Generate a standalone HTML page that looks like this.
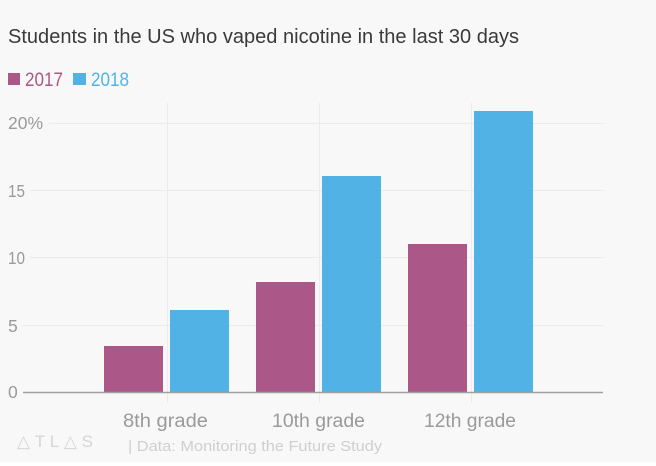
<!DOCTYPE html>
<html><head><meta charset="utf-8"><style>
html,body{margin:0;padding:0;background:#fff;}
svg{display:block;}
text{font-family:"Liberation Sans",sans-serif;}
</style></head><body>
<svg width="656" height="466" viewBox="0 0 656 466" xmlns="http://www.w3.org/2000/svg">
<rect x="0" y="0" width="656" height="462" fill="#f8f8f8"/>
<text x="8" y="43" font-size="20" fill="#3a3a3a" textLength="511" lengthAdjust="spacingAndGlyphs">Students in the US who vaped nicotine in the last 30 days</text>
<rect x="8" y="73" width="12" height="12" fill="#ab5787"/>
<text x="25" y="86" font-size="19.5" fill="#ab5787" textLength="38" lengthAdjust="spacingAndGlyphs">2017</text>
<rect x="73" y="73" width="13" height="12" fill="#51b2e5"/>
<text x="91" y="86" font-size="19.5" fill="#51b2e5" textLength="38" lengthAdjust="spacingAndGlyphs">2018</text>
<g stroke="#ebebeb" stroke-width="1">
<line x1="49" y1="123.5" x2="603" y2="123.5"/>
<line x1="30" y1="190.5" x2="603" y2="190.5"/>
<line x1="30" y1="257.5" x2="603" y2="257.5"/>
<line x1="22" y1="325.5" x2="603" y2="325.5"/>
<line x1="167.5" y1="103" x2="167.5" y2="403"/>
<line x1="319.5" y1="103" x2="319.5" y2="403"/>
<line x1="471.5" y1="103" x2="471.5" y2="403"/>
</g>
<g fill="#9a9a9a" font-size="17.5">
<text x="8" y="129" textLength="35" lengthAdjust="spacingAndGlyphs">20%</text>
<text x="8" y="197" textLength="17" lengthAdjust="spacingAndGlyphs">15</text>
<text x="8" y="264" textLength="17" lengthAdjust="spacingAndGlyphs">10</text>
<text x="8" y="332">5</text>
<text x="8" y="398">0</text>
</g>
<rect x="104" y="346" width="59" height="46" fill="#ab5787"/>
<rect x="170" y="310" width="59" height="82" fill="#51b2e5"/>
<rect x="256" y="282" width="59" height="110" fill="#ab5787"/>
<rect x="322" y="176" width="59" height="216" fill="#51b2e5"/>
<rect x="408" y="244" width="59" height="148" fill="#ab5787"/>
<rect x="474" y="111" width="59" height="281" fill="#51b2e5"/>
<line x1="23" y1="392.5" x2="603" y2="392.5" stroke="#a0a0a0" stroke-width="1.5"/>
<g fill="#9a9a9a" font-size="19">
<text x="123" y="427" textLength="85" lengthAdjust="spacingAndGlyphs">8th grade</text>
<text x="272" y="427" textLength="93" lengthAdjust="spacingAndGlyphs">10th grade</text>
<text x="424" y="427" textLength="92" lengthAdjust="spacingAndGlyphs">12th grade</text>
</g>
<text x="17" y="447" font-size="17" fill="#d6d6d6" font-family="DejaVu Sans, sans-serif" textLength="76" lengthAdjust="spacing">△TL△S</text>
<text x="128" y="451" font-size="15" fill="#cfcfcf" textLength="254" lengthAdjust="spacingAndGlyphs">| Data: Monitoring the Future Study</text>
</svg>
</body></html>
